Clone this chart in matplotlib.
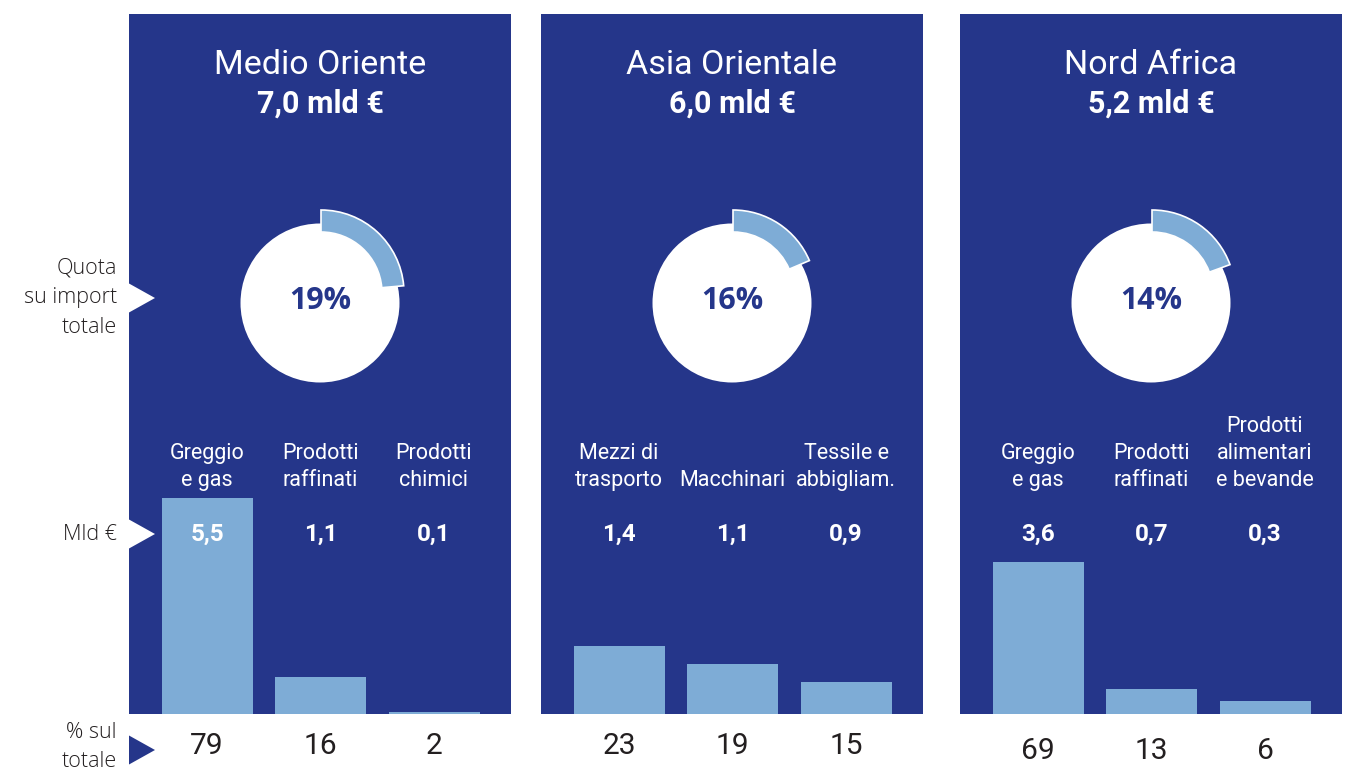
import matplotlib.pyplot as plt
from matplotlib.patches import Rectangle, Circle, Wedge, Polygon

# Data
regions = ["Medio Oriente", "Asia Orientale", "Nord Africa"]
totals = ["7,0 mld €", "6,0 mld €", "5,2 mld €"]
share = [19, 16, 14]                  # quota su import totale (%)
arc_sweep = [85, 67, 70]              # drawn sweep of the arc (deg), as in the picture
categories = [
    ["Greggio\ne gas", "Prodotti\nraffinati", "Prodotti\nchimici"],
    ["Mezzi di\ntrasporto", "Macchinari", "Tessile e\nabbigliam."],
    ["Greggio\ne gas", "Prodotti\nraffinati", "Prodotti\nalimentari\ne bevande"],
]
mld = [["5,5", "1,1", "0,1"], ["1,4", "1,1", "0,9"], ["3,6", "0,7", "0,3"]]
pct_tot = [[79, 16, 2], [23, 19, 15], [69, 13, 6]]
bar_len = [[216, 37, 2], [68, 50, 32], [152, 25, 13]]   # bar lengths as drawn

DARK = "#25368A"
LIGHT = "#7EACD6"
TXT = "#231F20"
W, H = 1360, 782

fig = plt.figure(figsize=(13.6, 7.82), dpi=100)


def pixel_axes():
    a = fig.add_axes([0, 0, 1, 1])
    a.set_xlim(0, W)
    a.set_ylim(H, 0)
    a.axis("off")
    return a


ax = pixel_axes()   # panels and donuts

panel_left = [129, 541, 960]
panel_w = 382
panel_top, panel_bot = 14, 714
num_y = [746, 746, 751]

for k in range(3):
    x0 = panel_left[k]
    xc = x0 + panel_w / 2
    ax.add_patch(Rectangle((x0, panel_top), panel_w, panel_bot - panel_top,
                           facecolor=DARK, edgecolor="none", zorder=0))
    ax.add_patch(Circle((xc, 303), 79.5, facecolor="white", edgecolor="none", zorder=2))
    ax.add_patch(Wedge((xc + 1, 293), 83, -90, -90 + arc_sweep[k], width=22,
                       facecolor=LIGHT, edgecolor="white", linewidth=1.2, zorder=3))

    # bars in their own axes
    bx = fig.add_axes([x0 / W, (H - panel_bot) / H, panel_w / W, 230 / H])
    bx.set_xlim(-78 / 113.5, (panel_w - 78) / 113.5)
    bx.set_ylim(0, 230)
    bx.axis("off")
    bx.bar(range(3), bar_len[k], width=91 / 113.5, color=LIGHT)

# text layer on top of everything
tx = pixel_axes()
for k, name in enumerate(regions):
    x0 = panel_left[k]
    xc = x0 + panel_w / 2
    tx.text(xc, 65, name, ha="center", va="center", color="white",
            fontsize=24.5, family="Roboto")
    tx.text(xc, 104, totals[k], ha="center", va="center", color="white",
            fontsize=22, family="Roboto", fontweight="bold")
    tx.text(xc, 301, f"{share[k]}%", ha="center", va="center", color=DARK,
            fontsize=22, family="Open Sans", fontweight="bold")
    for i in range(3):
        cx = x0 + 78 + i * 113.5
        tx.text(cx, 491, categories[k][i], ha="center", va="bottom", color="white",
                fontsize=15.5, family="Roboto", linespacing=1.38)
        tx.text(cx, 534, mld[k][i], ha="center", va="center", color="white",
                fontsize=17.5, family="Roboto", fontweight="bold")
        tx.text(cx, num_y[k], str(pct_tot[k][i]), ha="center", va="center",
                color=TXT, fontsize=21.5, family="Roboto")

# left-side row labels and markers
tx.text(117, 298, "Quota\nsu import\ntotale", ha="right", va="center", color=TXT,
        fontsize=15.5, family="Open Sans", fontweight="light", linespacing=1.55)
tx.text(117, 534, "Mld €", ha="right", va="center", color=TXT,
        fontsize=15.5, family="Open Sans", fontweight="light")
tx.text(117, 747, "% sul\ntotale", ha="right", va="center", color=TXT,
        fontsize=15.5, family="Open Sans", fontweight="light", linespacing=1.55)

for yc, col in [(298, "white"), (534, "white"), (750, DARK)]:
    tx.add_patch(Polygon([(129, yc - 14.5), (155, yc), (129, yc + 14.5)],
                         closed=True, facecolor=col, edgecolor="none"))

fig.savefig("out.png", dpi=100)
